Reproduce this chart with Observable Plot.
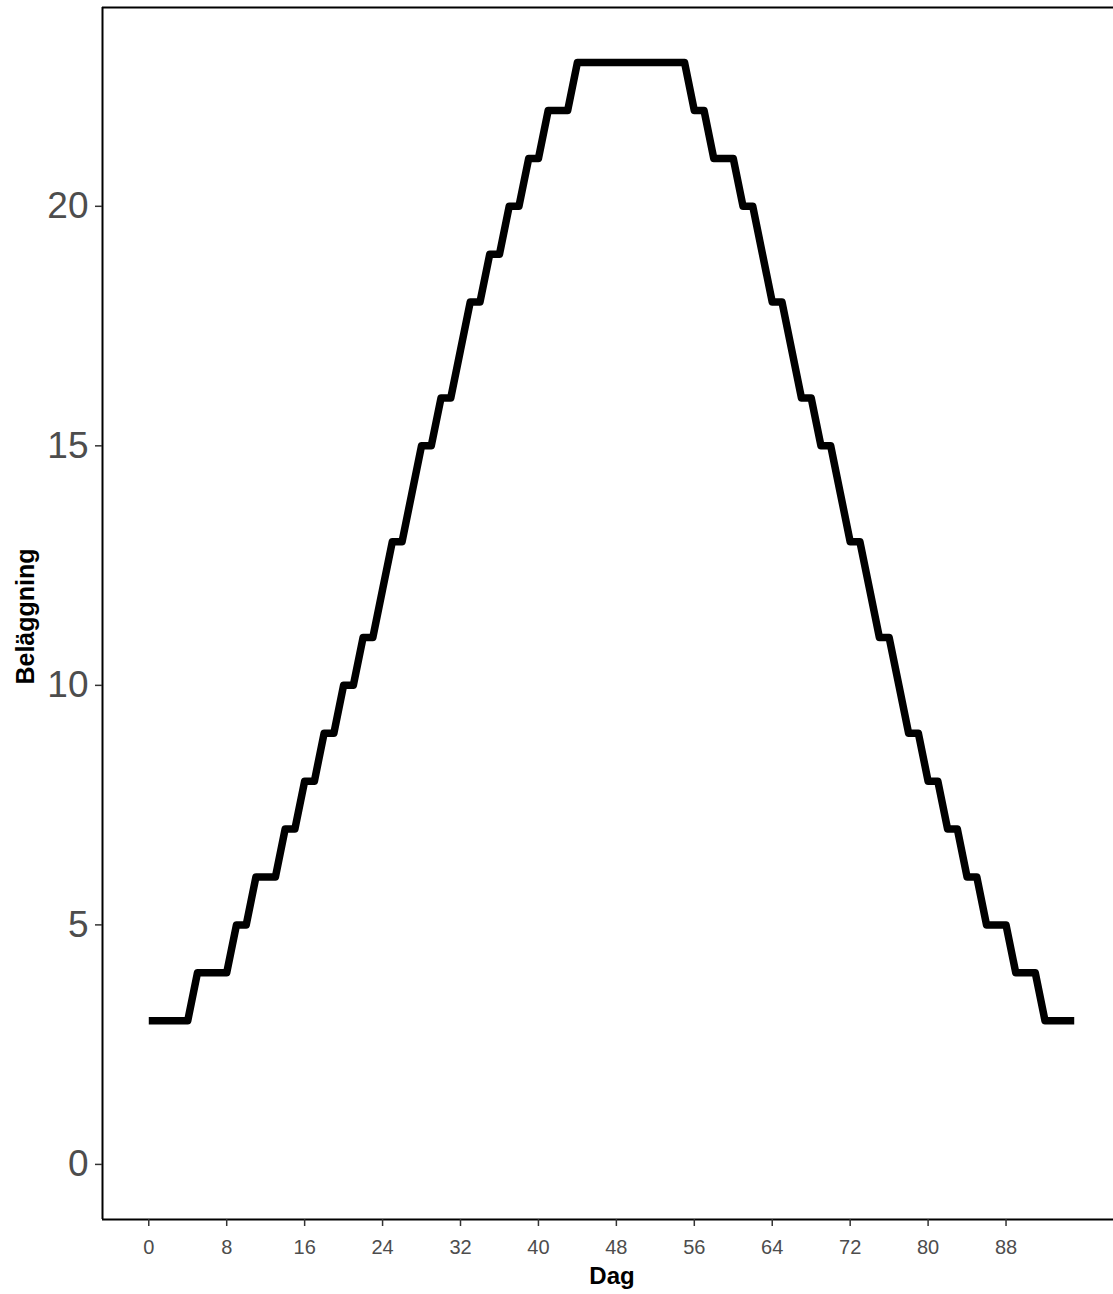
<!DOCTYPE html>
<html>
<head>
<meta charset="utf-8">
<script src="https://cdn.jsdelivr.net/npm/d3@7"></script>
<script src="https://cdn.jsdelivr.net/npm/@observablehq/plot@0.6"></script>
<style>
  html, body { margin: 0; padding: 0; background: #fff; overflow: hidden; }
  #chart svg { display: block; }
</style>
</head>
<body>
<div id="chart"></div>
<script>
// Beläggning per dag
const occupancy = [
  3, 3, 3, 3, 3, 4, 4, 4, 4, 5, 5, 6, 6, 6, 7, 7, 8, 8, 9, 9,
  10, 10, 11, 11, 12, 13, 13, 14, 15, 15, 16, 16, 17, 18, 18, 19, 19, 20, 20, 21,
  21, 22, 22, 22, 23, 23, 23, 23, 23, 23, 23, 23, 23, 23, 23, 23, 22, 22, 21, 21,
  21, 20, 20, 19, 18, 18, 17, 16, 16, 15, 15, 14, 13, 13, 12, 11, 11, 10, 9, 9,
  8, 8, 7, 7, 6, 6, 5, 5, 5, 4, 4, 4, 3, 3, 3, 3
];
const days = occupancy.map((_, i) => i);
const xTicks = [0, 8, 16, 24, 32, 40, 48, 56, 64, 72, 80, 88];
const yTicks = [0, 5, 10, 15, 20];
const xTitle = "Dag";
const yTitle = "Beläggning";

const data = days.map((d, i) => ({ dag: d, belaggning: occupancy[i] }));

// ggplot-like 5% expansion; y limits include 0
const xExt = [0, d3.max(days)];
const xPad = (xExt[1] - xExt[0]) * 0.05;
const xDomain = [xExt[0] - xPad, xExt[1] + xPad];
const yExt = [0, d3.max(occupancy)];
const yPad = (yExt[1] - yExt[0]) * 0.05;
const yDomain = [yExt[0] - yPad, yExt[1] + yPad];

const font = "'Liberation Sans', Arial, Helvetica, sans-serif";

const chart = Plot.plot({
  width: 1113,
  height: 1294,
  marginLeft: 102,
  marginRight: 0,
  marginTop: 7,
  marginBottom: 75,
  style: { fontFamily: font, background: "#fff", overflow: "hidden" },
  x: { domain: xDomain, range: [102, 1120] },
  y: { domain: yDomain, range: [1219, 7] },
  marks: [
    // panel border
    Plot.ruleY([yDomain[1]], { x1: xDomain[0], x2: xDomain[1], stroke: "black", strokeWidth: 2 }),
    Plot.ruleY([yDomain[0]], { x1: xDomain[0], x2: xDomain[1], stroke: "black", strokeWidth: 2 }),
    Plot.ruleX([xDomain[0]], { y1: yDomain[0], y2: yDomain[1], stroke: "black", strokeWidth: 2 }),
    Plot.ruleX([xDomain[1]], { y1: yDomain[0], y2: yDomain[1], stroke: "black", strokeWidth: 2 }),
    Plot.axisY(yTicks, {
      tickSize: 7, tickPadding: 7, fontSize: 37, fill: "#4D4D4D", stroke: "#333333",
      strokeWidth: 1.5, label: null
    }),
    Plot.axisX(xTicks, {
      tickSize: 7, tickPadding: 13, fontSize: 20, fill: "#4D4D4D", stroke: "#333333",
      strokeWidth: 1.5, label: null
    }),
    Plot.line(data, {
      x: "dag", y: "belaggning", stroke: "black", strokeWidth: 7.5,
      strokeLinejoin: "round", strokeLinecap: "butt"
    }),
    Plot.text([xTitle], {
      frameAnchor: "bottom", dy: 64, dx: 4, fontSize: 24, fontWeight: "bold", fill: "black"
    }),
    Plot.text([yTitle], {
      frameAnchor: "left", textAnchor: "middle", rotate: -90, dx: -77, dy: 3,
      fontSize: 25, fontWeight: "bold", fill: "black"
    })
  ]
});

document.getElementById("chart").appendChild(chart);
</script>
</body>
</html>
